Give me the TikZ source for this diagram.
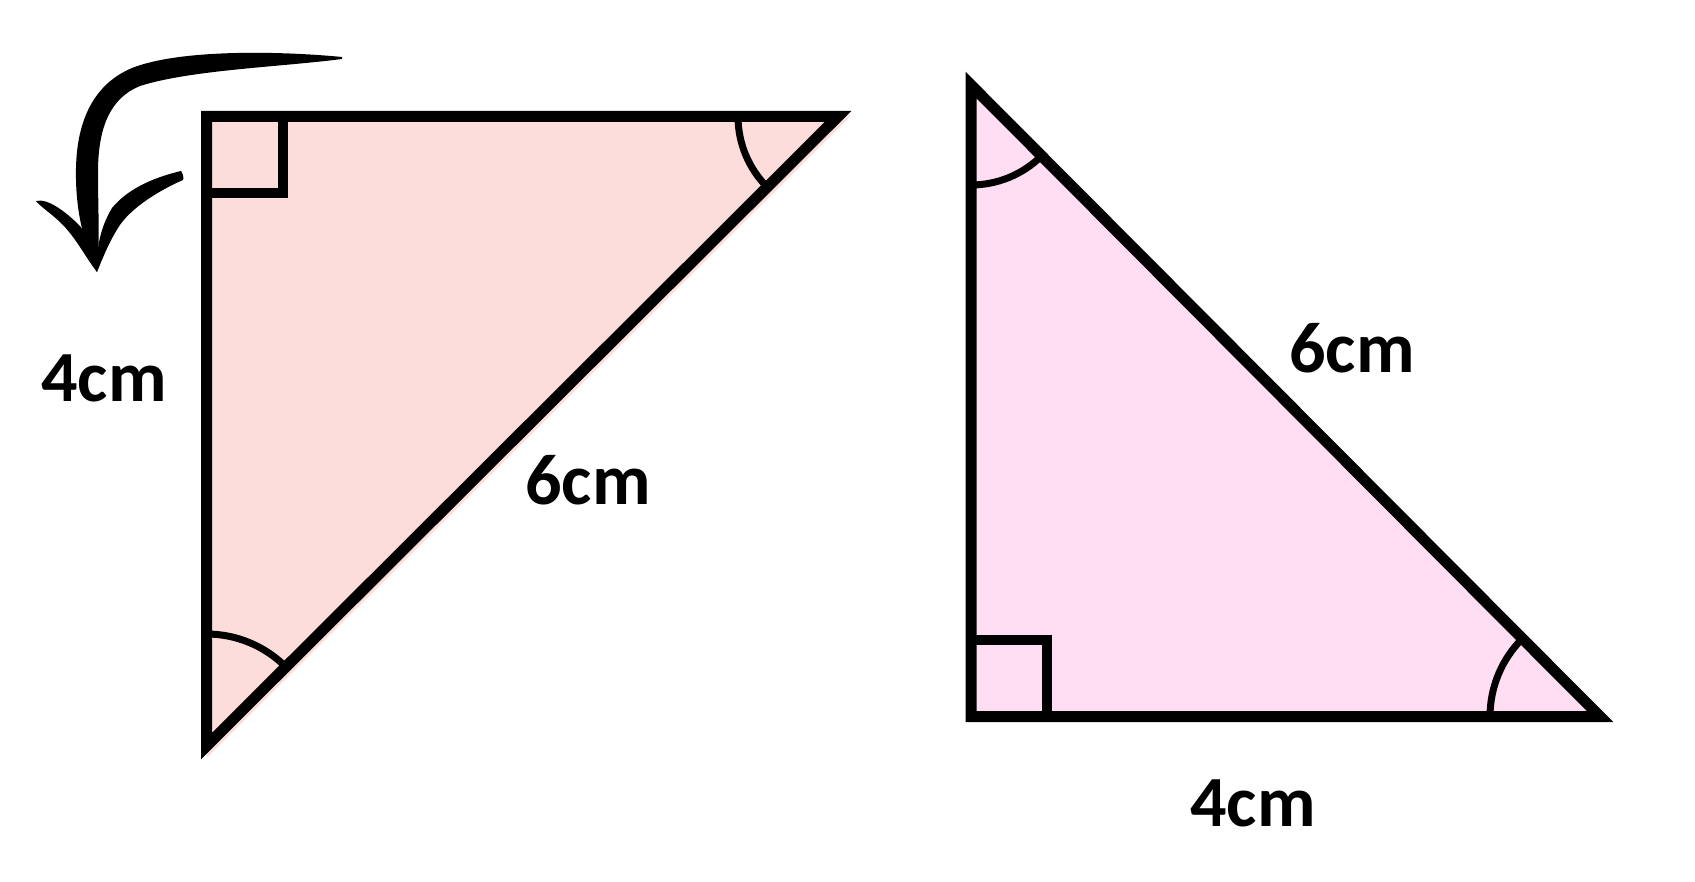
\documentclass[tikz,border=0pt]{standalone}
\usepackage{fontspec}
\setmainfont{Carlito}
\usepackage{tikz}

\definecolor{pinkL}{HTML}{FDDCDC}
\definecolor{pinkR}{HTML}{FFDDF2}

\begin{document}
\begin{tikzpicture}[x=1pt, y=-1pt,
        side/.style={line width=11pt, line join=miter},
        rightang/.style={line width=10pt},
        angarc/.style={line width=7pt},
        lbl/.style={inner sep=0pt, font=\fontsize{72}{80}\selectfont\bfseries}]
        \useasboundingbox (0,0) rectangle (1695,882);
        % left triangle
        \coordinate (A) at (206.5,116.5);
        \coordinate (B) at (838,116.5);
        \coordinate (C) at (206.5,746);
        \fill[pinkL] (A) -- (850,116.5) -- (206.5,758) -- cycle;
        \draw[side] (A) -- (B) -- (C) -- cycle;
        \draw[rightang] (206.5,193) -- (283,193) -- (283,116.5);
        \draw[angarc] (B) ++(-100pt,0) arc[start angle=180, end angle=225, radius=100pt];
        \draw[angarc] (C) ++(0,112pt) arc[start angle=90, end angle=45, radius=112pt];
        % right triangle
        \coordinate (T) at (971,85);
        \coordinate (L) at (971,716.5);
        \coordinate (R) at (1600,716.5);
        \fill[pinkR] (T) -- (L) -- (R) -- cycle;
        \draw[side] (T) -- (L) -- (R) -- cycle;
        \draw[rightang] (971,640) -- (1047,640) -- (1047,716.5);
        \draw[angarc] (T) ++(0,-100pt) arc[start angle=270, end angle=315, radius=100pt];
        \draw[angarc] (R) ++(-110pt,0) arc[start angle=180, end angle=135, radius=110pt];
        % labels
        \node[lbl] (sideA) at (104,378) {4cm};
        \node[lbl] (hypA) at (588,480) {6cm};
        \node[lbl] (hypB) at (1352,348) {6cm};
        \node[lbl] (sideB) at (1253,803) {4cm};
        % brush arrow
        \coordinate (tip) at (97,272);
        \fill (342,57) .. controls (280,51) and (180,49) .. (132,68)
            .. controls (94,84) and (77,120) .. (76,168)
            .. controls (75,215) and (86,248) .. (tip)
            .. controls (100,240) and (98,210) .. (98,172)
            .. controls (98,128) and (110,98) .. (140,86)
            .. controls (190,70) and (280,67) .. (342,59) -- cycle;
        \fill (36,201) .. controls (48,198) and (66,212) .. (80,226)
            .. controls (90,240) and (96,258) .. (tip)
            .. controls (86,258) and (76,238) .. (62,224)
            .. controls (52,214) and (42,208) .. cycle;
        \fill (181,171) .. controls (183,174) and (184,178) .. (183,180)
            .. controls (160,190) and (130,208) .. (118,228)
            .. controls (108,244) and (102,260) .. (tip)
            .. controls (96,250) and (100,228) .. (112,208)
            .. controls (130,186) and (160,176) .. cycle;
\end{tikzpicture}
\end{document}
